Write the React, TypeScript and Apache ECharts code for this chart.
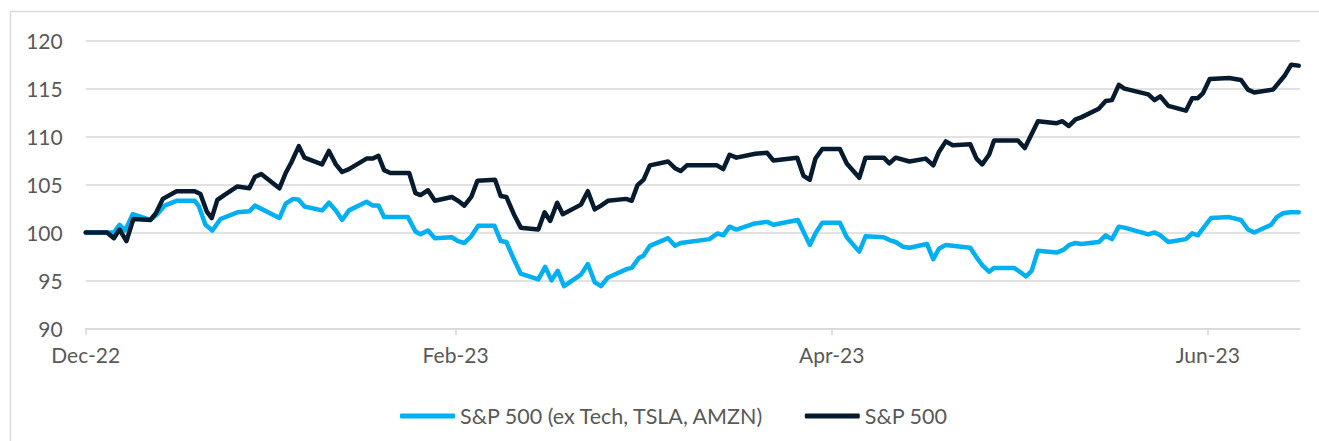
import React, { useEffect, useRef } from "react";
import * as echarts from "echarts";

const tickDays = [0, 59, 119, 179];
const tickLabels = ["Dec-22", "Feb-23", "Apr-23", "Jun-23"];
const seriesNames = ["S&P 500 (ex Tech, TSLA, AMZN)", "S&P 500"];

const spDays = [
  0, 3.4, 4.5, 5.4, 6.5, 7.6, 10.3, 11.2, 12.3, 14.5,
  17.4, 18.3, 19.3, 20.1, 21.0, 22.1, 24.2, 26.1, 27.0, 28.0,
  30.9, 31.9, 32.8, 34.0, 34.9, 37.7, 38.8, 39.9, 40.9, 42.0,
  44.8, 45.8, 46.7, 47.6, 48.6, 51.6, 52.6, 53.4, 54.6, 55.7,
  58.4, 59.4, 60.4, 61.5, 62.5, 65.3, 66.2, 67.1, 68.3, 69.4,
  72.2, 73.2, 74.1, 75.2, 76.1, 79.0, 80.1, 81.2, 82.2, 83.3,
  86.2, 87.1, 88.0, 89.0, 90.0, 92.9, 94.0, 94.9, 95.9, 100.7,
  101.7, 102.7, 103.8, 106.8, 108.7, 109.7, 113.5, 114.5, 115.5, 116.4,
  117.5, 120.3, 121.4, 123.4, 124.4, 127.3, 128.2, 129.2, 131.4, 134.0,
  135.2, 136.1, 137.2, 138.3, 141.1, 142.1, 143.0, 144.1, 144.9, 148.7,
  149.8, 150.7, 151.9, 154.9, 155.8, 156.8, 157.9, 158.8, 161.6, 162.7,
  163.7, 164.8, 165.7, 169.5, 170.5, 171.4, 172.7, 175.5, 176.5, 177.4,
  178.2, 179.3, 182.4, 184.3, 185.4, 186.4, 189.4, 191.3, 192.3, 193.5,
];
const spValues = [
  100, 100, 99.4, 100.3, 99.1, 101.4, 101.3, 102.0, 103.5, 104.3,
  104.3, 104.0, 102.2, 101.5, 103.4, 103.9, 104.8, 104.6, 105.8, 106.1,
  104.6, 106.2, 107.3, 109.0, 107.8, 107.1, 108.5, 107.1, 106.3, 106.6,
  107.7, 107.7, 108.0, 106.5, 106.2, 106.2, 104.1, 103.9, 104.4, 103.3,
  103.7, 103.3, 102.8, 103.7, 105.4, 105.5, 103.8, 103.7, 101.9, 100.5,
  100.3, 102.1, 101.2, 103.1, 101.9, 102.9, 104.3, 102.4, 102.8, 103.3,
  103.5, 103.3, 104.9, 105.5, 107.0, 107.4, 106.7, 106.4, 107.0, 107.0,
  106.6, 108.1, 107.8, 108.2, 108.3, 107.5, 107.8, 105.9, 105.5, 107.7,
  108.7, 108.7, 107.2, 105.7, 107.8, 107.8, 107.2, 107.8, 107.4, 107.7,
  107.0, 108.4, 109.5, 109.1, 109.2, 107.7, 107.1, 108.1, 109.6, 109.6,
  108.8, 110.0, 111.6, 111.4, 111.6, 111.1, 111.8, 112.0, 112.9, 113.7,
  113.8, 115.4, 115.0, 114.4, 113.8, 114.2, 113.2, 112.7, 114.0, 114.0,
  114.5, 116.0, 116.1, 115.9, 114.9, 114.6, 114.9, 116.4, 117.5, 117.4,
];

const exDays = [
  0, 3.4, 4.5, 5.4, 6.3, 7.5, 10.3, 11.4, 12.6, 14.5,
  17.4, 18.0, 19.1, 20.2, 21.5, 24.2, 26.1, 27.0, 30.9, 31.9,
  33.1, 34.0, 34.9, 37.7, 38.8, 39.9, 40.9, 42.0, 44.8, 45.8,
  46.7, 47.6, 51.4, 52.6, 53.4, 54.6, 55.7, 58.4, 59.4, 60.4,
  61.5, 62.6, 65.2, 66.2, 67.1, 68.3, 69.4, 72.2, 73.3, 74.3,
  75.3, 76.3, 79.0, 80.1, 81.2, 82.2, 83.3, 86.4, 87.1, 88.2,
  89.0, 90.0, 92.9, 94.0, 94.9, 99.5, 100.8, 101.7, 102.7, 103.8,
  106.5, 108.7, 109.7, 113.6, 115.5, 116.4, 117.5, 120.3, 121.4,
  123.4, 124.4, 127.3, 128.2, 129.2, 130.4, 131.4, 134.2, 135.2, 136.1,
  137.2, 141.1, 142.1, 143.0, 144.1, 144.9, 148.1, 149.0, 150.0, 150.9,
  151.9, 154.9, 156.0, 156.9, 157.9, 158.8, 161.6, 162.7, 163.7, 164.8,
  165.7, 169.5, 170.5, 171.4, 172.7, 175.5, 176.5, 177.4, 178.2, 179.5,
  182.4, 184.3, 185.4, 186.4, 189.1, 190.0, 191.0, 192.1, 193.5,
];
const exValues = [
  100, 100, 100.0, 100.8, 100.2, 101.9, 101.3, 101.9, 102.8, 103.3,
  103.3, 102.8, 100.8, 100.2, 101.4, 102.1, 102.2, 102.8, 101.5, 103.0,
  103.5, 103.4, 102.7, 102.3, 103.1, 102.3, 101.3, 102.3, 103.2, 102.8,
  102.8, 101.6, 101.6, 100.1, 99.8, 100.2, 99.4, 99.5, 99.1, 98.9,
  99.6, 100.7, 100.7, 99.1, 99.0, 97.2, 95.7, 95.1, 96.4, 95.0,
  96.0, 94.4, 95.6, 96.7, 94.8, 94.4, 95.3, 96.2, 96.3, 97.3,
  97.6, 98.6, 99.4, 98.6, 98.9, 99.3, 99.9, 99.7, 100.6, 100.3,
  100.9, 101.1, 100.8, 101.3, 98.7, 99.9, 101.0, 101.0, 99.5,
  98.0, 99.6, 99.5, 99.2, 99.0, 98.5, 98.4, 98.8, 97.2, 98.3,
  98.7, 98.4, 97.4, 96.6, 95.9, 96.3, 96.3, 95.9, 95.4, 96.0,
  98.1, 97.9, 98.2, 98.7, 98.9, 98.8, 99.0, 99.7, 99.3, 100.6,
  100.5, 99.8, 100.0, 99.7, 99.0, 99.3, 99.9, 99.7, 100.4, 101.5,
  101.6, 101.3, 100.3, 100.0, 100.8, 101.6, 102.0, 102.1, 102.1,
];

const BLUE = "#00B0F0";
const NAVY = "#061B2E";
const GRID = "#D9D9D9";
const TEXT = "#595959";
const FONT = "Lato";

export default function App() {
  const ref = useRef<HTMLDivElement>(null);
  useEffect(() => {
    const chart = echarts.init(ref.current!, null, { renderer: "svg" });
    chart.setOption({
      animation: false,
      backgroundColor: "#ffffff",
      graphic: [
        {
          type: "rect",
          silent: true,
          z: -10,
          shape: { x: 10.5, y: 11.5, width: 1400, height: 500 },
          style: { fill: "none", stroke: GRID, lineWidth: 1.5 },
        },
      ],
      grid: { left: 85.7, right: 19, top: 40.7, bottom: 112.7, outerBoundsMode: "none" },
      legend: {
        left: 395,
        top: 400,
        itemWidth: 55,
        itemHeight: 5,
        itemGap: 40,
        icon: "roundRect",
        textStyle: { fontFamily: FONT, fontSize: 21.5, color: TEXT },
        data: seriesNames,
      },
      xAxis: {
        type: "value",
        min: 0,
        max: 193.7,
        axisLine: { show: true, lineStyle: { color: GRID, width: 1.5 } },
        axisTick: { show: true, customValues: tickDays, length: 7, lineStyle: { color: GRID, width: 1.5 } },
        axisLabel: {
          customValues: tickDays,
          formatter: (v: number) => {
            const i = tickDays.indexOf(v);
            return i >= 0 ? tickLabels[i] : "";
          },
          fontFamily: FONT,
          fontSize: 21,
          color: TEXT,
          margin: 16,
        },
        splitLine: { show: false },
      },
      yAxis: {
        type: "value",
        min: 90,
        max: 120,
        interval: 5,
        axisLine: { show: false },
        axisTick: { show: false },
        axisLabel: { fontFamily: FONT, fontSize: 21, color: TEXT, margin: 23 },
        splitLine: { lineStyle: { color: GRID, width: 1.5 } },
      },
      series: [
        {
          name: seriesNames[0],
          type: "line",
          symbol: "none",
          color: BLUE,
          lineStyle: { width: 4.5, color: BLUE, cap: "round", join: "round" },
          data: exDays.map((d, i) => [d, exValues[i]]),
          z: 2,
        },
        {
          name: seriesNames[1],
          type: "line",
          symbol: "none",
          color: NAVY,
          lineStyle: { width: 4.5, color: NAVY, cap: "round", join: "round" },
          data: spDays.map((d, i) => [d, spValues[i]]),
          z: 3,
        },
      ],
    });
    return () => chart.dispose();
  }, []);
  return (
    <div
      ref={ref}
      style={{ position: "absolute", left: 0, top: 0, width: 1319, height: 441 }}
    />
  );
}
